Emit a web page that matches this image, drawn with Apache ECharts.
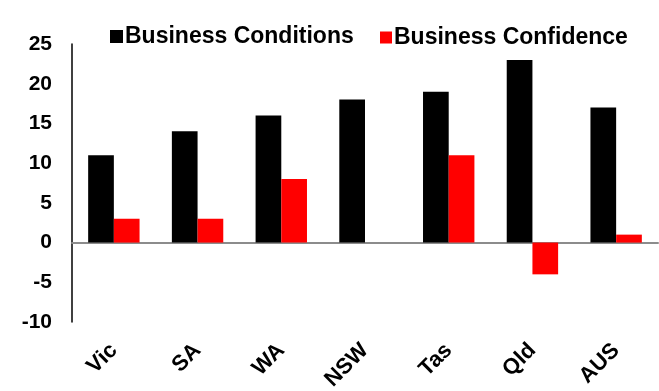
<!DOCTYPE html>
<html>
<head>
<meta charset="utf-8">
<script src="https://cdn.jsdelivr.net/npm/echarts@6/dist/echarts.min.js"></script>
<style>
  html, body { margin: 0; padding: 0; background: #fff; }
  #chart { width: 659px; height: 391px; }
</style>
</head>
<body>
<div id="chart"></div>
<script>
// State business survey readings
const categories = ['Vic', 'SA', 'WA', 'NSW', 'Tas', 'Qld', 'AUS'];
const conditions = [11, 14, 16, 18, 19, 23, 17];
const confidence = [3, 3, 8, 0, 11, -4, 1];
const yTicks = { min: -10, max: 25, interval: 5 };

const FONT = '"Liberation Sans", Arial, sans-serif';

const chart = echarts.init(document.getElementById('chart'), null, { renderer: 'canvas' });

chart.setOption({
  backgroundColor: '#ffffff',
  animation: false,
  textStyle: { fontFamily: FONT },
  legend: [
    {
      data: ['Business Conditions'],
      left: 105, top: 20,
      itemWidth: 13, itemHeight: 13, itemGap: 0,
      icon: 'rect',
      textStyle: { fontFamily: FONT, fontWeight: 'bold', fontSize: 23, color: '#000', padding: [0, 0, 0, -3] }
    },
    {
      data: ['Business Confidence'],
      left: 375, top: 21,
      itemWidth: 12, itemHeight: 12, itemGap: 0,
      icon: 'rect',
      textStyle: { fontFamily: FONT, fontWeight: 'bold', fontSize: 23, color: '#000', padding: [0, 0, 0, -3] }
    }
  ],
  grid: { left: 72, right: 1, top: 44, bottom: 69, containLabel: false, outerBoundsMode: 'none' },
  xAxis: [
    {
      // zero baseline
      type: 'category',
      data: categories,
      axisLine: { onZero: true, lineStyle: { color: '#8c8c8c', width: 2 } },
      axisTick: { show: false },
      axisLabel: { show: false },
      splitLine: { show: false }
    },
    {
      // category labels along the bottom edge
      type: 'category',
      data: categories,
      position: 'bottom',
      axisLine: { show: false, onZero: false },
      axisTick: { show: false },
      axisLabel: {
        rotate: 45,
        margin: 25,
        fontFamily: FONT,
        fontWeight: 'bold',
        fontSize: 22,
        color: '#000'
      }
    }
  ],
  yAxis: {
    type: 'value',
    min: yTicks.min,
    max: yTicks.max,
    interval: yTicks.interval,
    axisLine: { show: true, lineStyle: { color: '#000', width: 1.5 } },
    axisTick: { show: false },
    splitLine: { show: false },
    axisLabel: {
      margin: 20,
      fontFamily: FONT,
      fontWeight: 'bold',
      fontSize: 21,
      color: '#000'
    }
  },
  series: [
    {
      name: 'Business Conditions',
      type: 'bar',
      xAxisIndex: 0,
      data: conditions,
      barWidth: '30.7%',
      barGap: '0%',
      itemStyle: { color: '#000000' }
    },
    {
      name: 'Business Confidence',
      type: 'bar',
      xAxisIndex: 0,
      data: confidence,
      barWidth: '30.7%',
      barGap: '0%',
      itemStyle: { color: '#ff0000' }
    }
  ]
});
</script>
</body>
</html>
